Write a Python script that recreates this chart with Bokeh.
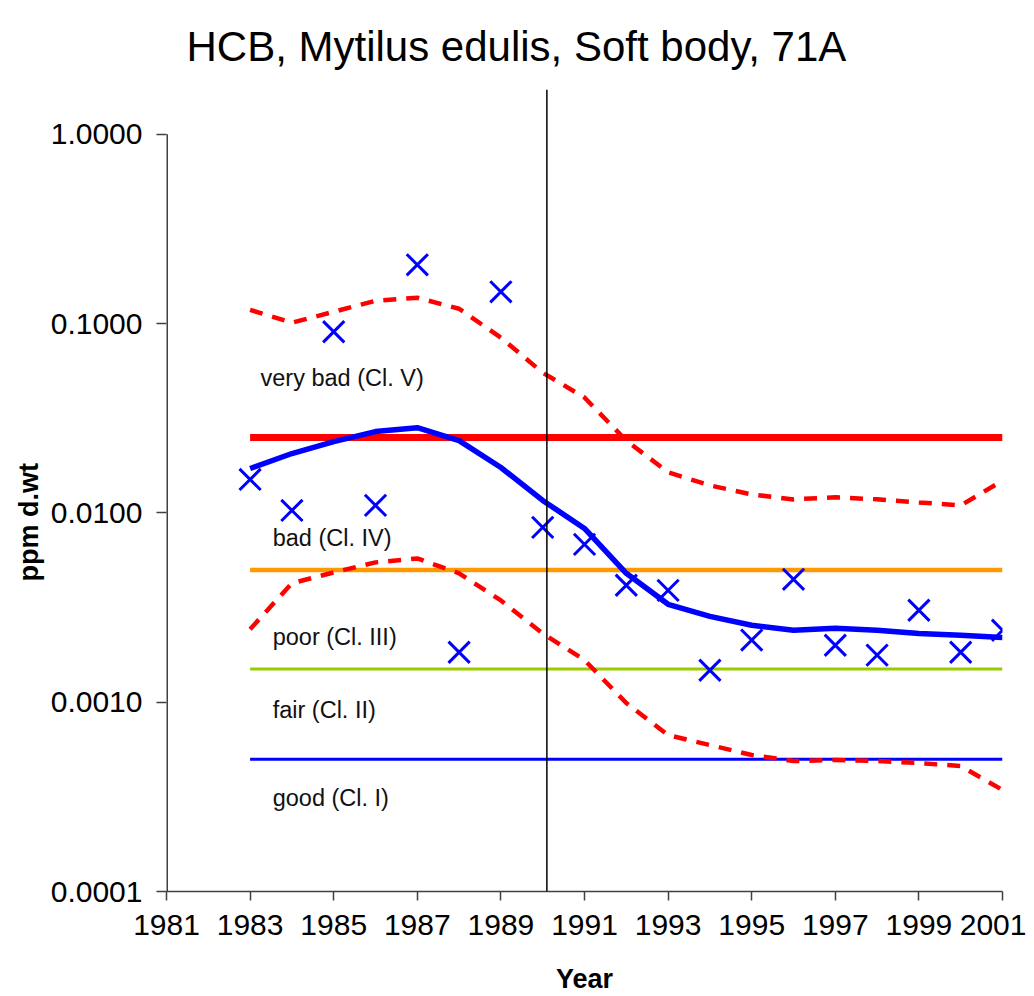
from bokeh.plotting import figure
from bokeh.models import (ColumnDataSource, FixedTicker, PrintfTickFormatter,
                          Span, Range1d, Title)
from bokeh.core.properties import value
from bokeh.embed import file_html
from bokeh.resources import INLINE

# ---------------- data ----------------
years = [1983, 1984, 1985, 1986, 1987, 1988, 1989, 1990, 1991, 1992,
         1993, 1994, 1995, 1996, 1997, 1998, 1999, 2000, 2001]
measured = [0.01503, 0.01031, 0.0906, 0.01096, 0.2046, 0.001836, 0.1473,
            0.00839, 0.00682, 0.00415, 0.0039, 0.001476, 0.00213, 0.00446,
            0.0020, 0.001774, 0.00306, 0.001836, 0.0024]
trend = [0.01717, 0.0206, 0.0238, 0.0269, 0.0282, 0.0241, 0.01738, 0.01164,
         0.00828, 0.0048, 0.00329, 0.00284, 0.00255, 0.0024, 0.00246, 0.0024,
         0.00231, 0.00226, 0.0022]
upper = [0.1183, 0.1011, 0.1156, 0.132, 0.137, 0.1199, 0.0843, 0.0551,
         0.0407, 0.0241, 0.0164, 0.01397, 0.01253, 0.01179, 0.0121, 0.0118,
         0.01136, 0.01096, 0.0148]
lower = [0.00243, 0.00425, 0.00485, 0.00548, 0.00575, 0.0048, 0.00345,
         0.00231, 0.00167, 0.00099, 0.00067, 0.000594, 0.000526, 0.000489,
         0.000495, 0.000489, 0.000477, 0.00046, 0.000344]

class_limits = [0.025, 0.005, 0.0015, 0.0005]
class_start = 1983
class_end = 2001
class_names = ["very bad (Cl. V)", "bad (Cl. IV)", "poor (Cl. III)",
               "fair (Cl. II)", "good (Cl. I)"]
class_label_x = [1983.25, 1983.54, 1983.54, 1983.54, 1983.54]
class_label_y = [0.0519, 0.00734, 0.0022, 0.000907, 0.000312]

y_ticks = [0.0001, 0.001, 0.01, 0.1, 1.0]
x_ticks = list(range(1981, 2002, 2))
change_year = 1990.1

title_text = "HCB, Mytilus edulis, Soft body, 71A"
y_label = "ppm d.wt"
x_label = "Year"
FONT = "Liberation Sans"

# ---------------- figure ----------------
p = figure(width=1026, height=996, y_axis_type="log",
           x_range=Range1d(1981, 2001), y_range=Range1d(0.0001, 1.726),
           output_backend="svg", toolbar_location=None,
           min_border_left=166, min_border_right=24,
           min_border_top=88, min_border_bottom=104)
p.outline_line_color = None
p.grid.visible = False
p.background_fill_color = "white"
p.border_fill_color = "white"

p.title.text = title_text
p.title.text_font = FONT
p.title.text_font_style = "normal"
p.title.text_font_size = "42px"
p.title.text_color = "black"
p.title.align = "left"
p.title.offset = 20
p.title.standoff = 40

# axes
xa = p.xaxis[0]
xa.ticker = FixedTicker(ticks=x_ticks)
xa.major_tick_in = 0
xa.major_tick_out = 9
xa.minor_tick_line_color = None
xa.axis_line_color = "#404040"
xa.axis_line_width = 1.5
xa.major_tick_line_color = "#404040"
xa.major_tick_line_width = 1.5
xa.major_label_text_font = FONT
xa.major_label_text_font_size = "30px"
xa.major_label_text_color = "black"
xa.major_label_standoff = 14
xa.axis_label = x_label
xa.axis_label_text_font = FONT
xa.axis_label_text_font_style = "bold"
xa.axis_label_text_font_size = "27px"
xa.axis_label_text_color = "black"
xa.axis_label_standoff = 26

ya = p.yaxis[0]
ya.ticker = FixedTicker(ticks=y_ticks)
ya.formatter = PrintfTickFormatter(format="%.4f")
ya.major_tick_in = 0
ya.major_tick_out = 10
ya.minor_tick_line_color = None
ya.axis_line_color = None
ya.major_tick_line_color = "#404040"
ya.major_tick_line_width = 1.5
ya.major_label_text_font = FONT
ya.major_label_text_font_size = "30px"
ya.major_label_text_color = "black"
ya.major_label_standoff = 14

# y axis title, centred on the 0.0001..1 axis span
p.add_layout(Title(text=y_label, text_font=FONT, text_font_style="bold",
                   text_font_size="27px", text_color="black", align="left",
                   offset=310, standoff=7), "left")

# custom y axis line from 0.0001 to 1
p.segment(x0=[x_ticks[0]], y0=[y_ticks[0]], x1=[x_ticks[0]], y1=[y_ticks[-1]],
          line_color="#404040", line_width=3)

# class limit lines
class_colors = ["#FF0000", "#FF9900", "#99CC00", "#0000FF"]
class_widths = [7, 4.5, 3, 3]
p.segment(x0=[class_start] * 4, x1=[class_end] * 4, y0=class_limits,
          y1=class_limits, line_color=class_colors, line_width=class_widths)

# class labels
lab_src = ColumnDataSource(dict(x=class_label_x, y=class_label_y,
                                t=class_names))
p.text(x="x", y="y", text="t", source=lab_src, text_font=value(FONT),
       text_font_size="23.5px", text_baseline="middle", text_align="left",
       text_color="#111111")

src = ColumnDataSource(dict(year=years, measured=measured, trend=trend,
                            upper=upper, lower=lower))

# confidence bands
p.line("year", "upper", source=src, line_color="#FF0000", line_width=4.5,
       line_dash="13 10")
p.line("year", "lower", source=src, line_color="#FF0000", line_width=4.5,
       line_dash="13 10")

# trend
p.line("year", "trend", source=src, line_color="#0000FF", line_width=5.5)

# measurements
p.scatter("year", "measured", source=src, marker="x", size=30,
          line_color="#0000FF", line_width=3)

# vertical line
p.add_layout(Span(location=change_year, dimension="height",
                  line_color="black", line_width=1.5))

open("out.html", "w").write(file_html(p, INLINE))
